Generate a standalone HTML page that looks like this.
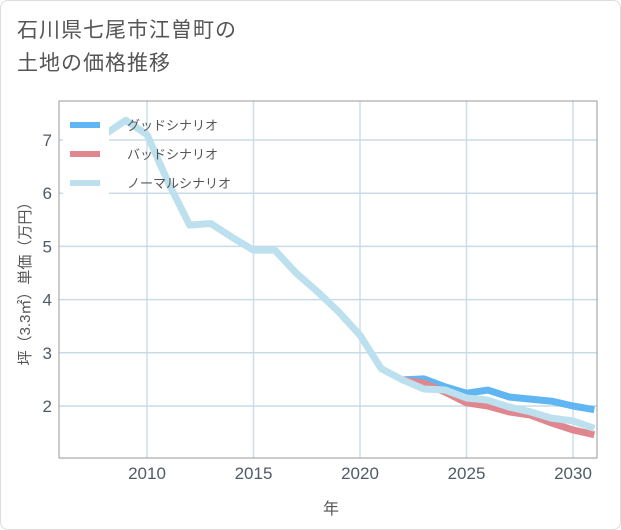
<!DOCTYPE html>
<html><head><meta charset="utf-8">
<style>
body{margin:0;background:#fff;}
#card{position:absolute;left:0;top:0;width:619px;height:528px;border:1px solid #ddd;border-radius:8px;background:#fff;}
#title{position:absolute;left:17px;top:14px;font:21px "Liberation Sans","Noto Sans CJK JP",sans-serif;color:#555;line-height:33px;letter-spacing:1px;}
svg text{font-family:"Liberation Sans","Noto Sans CJK JP",sans-serif;}
</style></head><body>
<div id="card"></div>
<div id="title">石川県七尾市江曽町の<br>土地の価格推移</div>
<svg id="chart" width="621" height="530" style="position:absolute;left:0;top:0"></svg>
<script>
const years=[2008,2009,2010,2011,2012,2013,2014,2015,2016,2017,2018,2019,2020,2021,2022,2023,2024,2025,2026,2027,2028,2029,2030,2031];
const normal=[7.1,7.37,7.1,6.2,5.4,5.43,5.17,4.93,4.93,4.5,4.15,3.77,3.33,2.7,2.49,2.32,2.3,2.15,2.11,1.98,1.89,1.77,1.72,1.58];
const goodYears=[2022,2023,2024,2025,2026,2027,2028,2029,2030,2031];
const good=[2.49,2.51,2.36,2.24,2.3,2.17,2.13,2.09,2.0,1.93];
const bad=[2.49,2.43,2.26,2.06,2.0,1.89,1.83,1.68,1.55,1.46];
const xTicks=[2010,2015,2020,2025,2030];
const yTicks=[2,3,4,5,6,7];
const legendLabels=["グッドシナリオ","バッドシナリオ","ノーマルシナリオ"];
const L=59,R=597,T=101,B=458;
const x=v=>147+(v-2010)*21.3;
const y=v=>140+(7-v)*53.2;
const svg=document.getElementById('chart');
const NS='http://www.w3.org/2000/svg';
function mk(tag,attrs,parent){const e=document.createElementNS(NS,tag);for(const k in attrs)e.setAttribute(k,attrs[k]);(parent||svg).appendChild(e);return e;}
mk('rect',{x:L,y:T,width:R-L,height:B-T,fill:'#fff'});
for(const t of xTicks){
 const g=mk('line',{x1:x(t),x2:x(t),y1:T,y2:B,stroke:'#d0dde8','stroke-width':1.5});
 
 
 const lb=mk('text',{x:x(t),y:479,'text-anchor':'middle','font-size':17,fill:'#4f5b66'});
 lb.textContent=t;
 
 
}
for(const t of yTicks){
 const g=mk('line',{x1:L,x2:R,y1:y(t),y2:y(t),stroke:'#c8dbe8','stroke-width':1.5});
 
 
 const lb=mk('text',{x:52,y:y(t)+6,'text-anchor':'end','font-size':17,fill:'#4f5b66'});
 lb.textContent=t;
 
 
}
const frame=mk('rect',{x:L,y:T,width:R-L,height:B-T,fill:'none',stroke:'#999','stroke-width':1});


function line(xs,vs,color,name){
 const p=mk('polyline',{points:xs.map((v,i)=>x(v)+','+y(vs[i])).join(' '),fill:'none',stroke:color,'stroke-width':7,'stroke-linejoin':'round'});
 
 
}
line(goodYears,good,'#5fb6f2','good-scenario-line');
line(goodYears,bad,'#e0868f','bad-scenario-line');
line(years,normal,'#bde0ee','normal-scenario-line');
const lbg=mk('rect',{x:63,y:110,width:46,height:85,fill:'#fff'});


const lcols=['#5fb6f2','#e0868f','#bde0ee'];
legendLabels.forEach((s,i)=>{
 const yy=125+i*29;
 const sw=mk('line',{x1:70,x2:100,y1:yy,y2:yy,stroke:lcols[i],'stroke-width':6});
 
 
 const tx=mk('text',{x:127,y:yy+5,'font-size':13,fill:'#555'});
 tx.textContent=s;
 
 
});
const xt=mk('text',{x:331,y:514,'text-anchor':'middle','font-size':16,fill:'#555'});
xt.textContent='年';


const yt=mk('text',{x:0,y:0,'text-anchor':'middle','font-size':15,fill:'#555',transform:'translate(30,280) rotate(-90)'});
yt.textContent='坪（3.3㎡）単価（万円）';


</script>
</body></html>
